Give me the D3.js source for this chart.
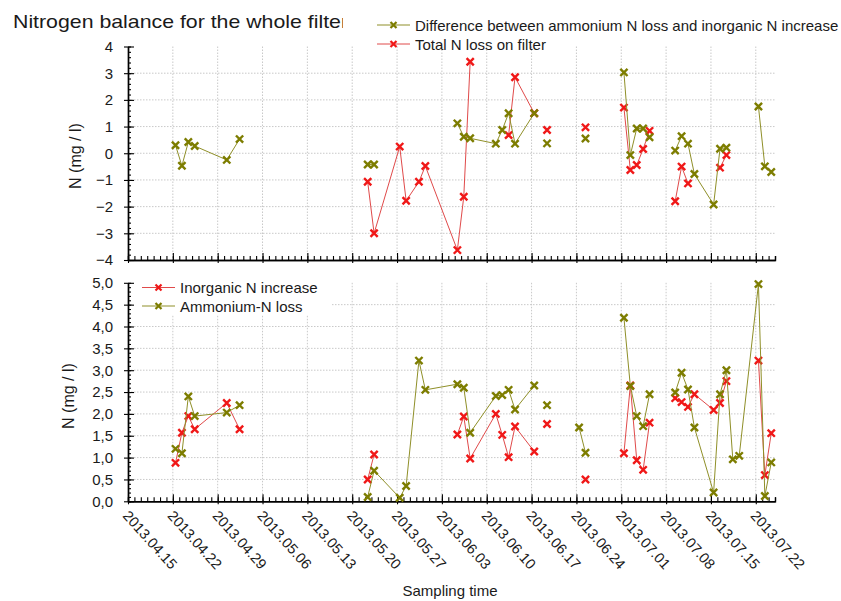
<!DOCTYPE html>
<html><head><meta charset="utf-8">
<script src="https://cdn.jsdelivr.net/npm/d3@7"></script>
<style>
body{margin:0;background:#fff}
svg{display:block}
text{font-family:"Liberation Sans",Arial,sans-serif;fill:#1a1a1a}
</style>
</head><body>
<svg id="c" width="841" height="601"></svg>
<script>
// Sampling rows (blank rows = no measurement, they break the lines)
const sampleTimes = [
 "2013-04-22 10:00","2013-04-23 10:00","2013-04-24 10:00","2013-04-25 10:00","2013-04-30 10:00","2013-05-02 10:00",
 "2013-05-10 10:00",
 "2013-05-22 10:00","2013-05-23 10:00","2013-05-27 10:00","2013-05-28 10:00","2013-05-30 10:00","2013-05-31 10:00",
 "2013-06-05 10:00","2013-06-06 10:00","2013-06-07 10:00","2013-06-11 10:00","2013-06-12 10:00","2013-06-13 10:00",
 "2013-06-14 10:00","2013-06-17 10:00",
 "2013-06-18 10:00",
 "2013-06-19 10:00",
 "2013-06-21 10:00",
 "2013-06-24 10:00","2013-06-25 10:00",
 "2013-06-28 10:00",
 "2013-07-01 10:00","2013-07-02 10:00","2013-07-03 10:00","2013-07-04 10:00","2013-07-05 10:00",
 "2013-07-07 10:00",
 "2013-07-09 10:00","2013-07-10 10:00","2013-07-11 10:00","2013-07-12 10:00","2013-07-15 10:00","2013-07-16 10:00",
 "2013-07-17 10:00","2013-07-18 10:00","2013-07-19 10:00","2013-07-22 10:00","2013-07-23 10:00","2013-07-24 10:00"
];
const ammoniumLoss = [
 1.2,1.1,2.4,1.95,2.03,2.2,
 null,
 0.1,0.7,0.08,0.35,3.22,2.55,
 2.68,2.6,1.57,2.41,2.43,2.55,
 2.1,2.65,
 null,
 2.2,
 null,
 1.69,1.11,
 null,
 4.2,2.64,1.95,1.72,2.45,
 null,
 2.49,2.94,2.56,1.69,0.2,2.45,
 3.0,0.96,1.04,4.97,0.12,0.89
];
const inorganicIncrease = [
 0.88,1.57,1.95,1.65,2.25,1.65,
 null,
 0.5,1.07,null,null,null,null,
 1.53,1.94,0.98,2.0,1.52,1.01,
 1.71,1.14,
 null,
 1.77,
 null,
 null,0.5,
 null,
 1.1,2.65,0.94,0.72,1.8,
 null,
 2.36,2.27,2.16,2.45,2.09,2.25,
 2.75,null,null,3.22,0.6,1.56
];
const differenceN = [
 0.3,-0.47,0.42,0.27,-0.25,0.53,
 null,
 -0.42,-0.42,null,null,null,null,
 1.12,0.62,0.56,0.36,0.87,1.5,
 0.36,1.5,
 null,
 0.37,
 null,
 null,0.55,
 null,
 3.03,-0.07,0.93,0.93,0.6,
 null,
 0.1,0.64,0.36,-0.78,-1.92,0.17,
 0.21,null,null,1.75,-0.49,-0.7
];
const totalLoss = [
 null,null,null,null,null,null,
 null,
 -1.07,-3.0,0.25,-1.78,-1.07,-0.48,
 -3.63,-1.63,3.43,null,null,0.68,
 2.85,1.5,
 null,
 0.87,
 null,
 null,0.97,
 null,
 1.71,-0.63,-0.44,0.16,0.84,
 null,
 -1.8,-0.5,-1.13,null,null,-0.54,
 -0.07,null,null,null,null,null
];
const xTickLabels = ["2013.04.15","2013.04.22","2013.04.29","2013.05.06","2013.05.13","2013.05.20","2013.05.27",
 "2013.06.03","2013.06.10","2013.06.17","2013.06.24","2013.07.01","2013.07.08","2013.07.15","2013.07.22"];
const topYTicks = [-4,-3,-2,-1,0,1,2,3,4];
const bottomYTicks = [0,0.5,1,1.5,2,2.5,3,3.5,4,4.5,5];
const xStart = "2013.04.15", xEnd = "2013.07.25";

const RED = "#f01818", REDLINE = "#e04a4a", GREEN = "#7d7d00", GREENLINE = "#8f8f28";

const svg = d3.select("#c");
const parseT = d3.timeParse("%Y-%m-%d %H:%M");
const parseD = d3.timeParse("%Y.%m.%d");
const times = sampleTimes.map(parseT);
const majors = xTickLabels.map(parseD);
const minors = d3.timeDay.range(parseD(xStart), d3.timeDay.offset(parseD(xEnd), 1));

const x = d3.scaleTime().domain([parseD(xStart), parseD(xEnd)]).range([128, 775]);
const yTop = d3.scaleLinear().domain([-4, 4]).range([260, 46.5]);
const yBot = d3.scaleLinear().domain([0, 5]).range([501.3, 282.8]);

// Title (clipped like original)
svg.append("clipPath").attr("id","tclip").append("rect").attr("x",0).attr("y",0).attr("width",343).attr("height",40);
svg.append("text").attr("x",13).attr("y",28).attr("font-size",19)
  .attr("textLength",335).attr("lengthAdjust","spacingAndGlyphs").attr("clip-path","url(#tclip)")
  .text("Nitrogen balance for the whole filter");

function grid(y, gridVals) {
  const g = svg.append("g").attr("stroke","#c9c9c9").attr("stroke-width",1).attr("stroke-dasharray","1.5,1.5");
  g.selectAll(".v").data(majors.slice(1)).join("line")
    .attr("x1", d => x(d)).attr("x2", d => x(d)).attr("y1", y.range()[1]).attr("y2", y.range()[0]);
  g.selectAll(".h").data(gridVals).join("line")
    .attr("x1", x.range()[0]).attr("x2", x.range()[1]).attr("y1", d => y(d)).attr("y2", d => y(d));
}
grid(yTop, topYTicks.filter(v => v > -4 && v < 4));
grid(yBot, bottomYTicks.filter(v => v > 0 && v < 5));

// bottom legend background
svg.append("rect").attr("x",132).attr("y",277).attr("width",200).attr("height",38).attr("fill","#fff");

function axes(y, yticks, yminorStep, fmt, showLabels) {
  const y0 = y.range()[0];
  const gxMin = svg.append("g").attr("transform",`translate(0,${y0})`)
    .call(d3.axisBottom(x).tickValues(minors).tickSize(-4).tickFormat(""));
  const gxMaj = svg.append("g").attr("transform",`translate(0,${y0})`)
    .call(d3.axisBottom(x).tickValues(majors).tickSizeInner(-7).tickSizeOuter(0).tickFormat(""));
  gxMaj.selectAll(".tick").append("line").attr("y2",3).attr("stroke","#000");
  [gxMin, gxMaj].forEach(g => { g.select(".domain").attr("stroke","#000").attr("stroke-width",1.4); g.selectAll(".tick line").attr("stroke","#000").attr("stroke-width",1.1); });
  const [lo, hi] = y.domain();
  const minorVals = d3.range(Math.round((hi - lo) / yminorStep) + 1).map(i => lo + i * yminorStep);
  const gyMin = svg.append("g").attr("transform",`translate(${x.range()[0]},0)`)
    .call(d3.axisRight(y).tickValues(minorVals).tickSize(3).tickSizeOuter(0).tickFormat(""));
  const gyMaj = svg.append("g").attr("transform",`translate(${x.range()[0]},0)`)
    .call(d3.axisLeft(y).tickValues(yticks).tickSizeInner(4).tickSizeOuter(0).tickPadding(11).tickFormat(fmt));
  gyMaj.selectAll(".tick").append("line").attr("x2",6).attr("stroke","#000");
  [gyMin, gyMaj].forEach(g => { g.select(".domain").attr("stroke","#000").attr("stroke-width",1.4); g.selectAll(".tick line").attr("stroke","#000").attr("stroke-width",1.1); });
  gyMaj.selectAll("text").attr("font-size",15).attr("font-family","Liberation Sans, Arial, sans-serif").attr("fill","#1a1a1a");
  if (showLabels) {
    svg.append("g").selectAll("text").data(majors).join("text")
      .attr("transform", d => `translate(${x(d) - 6},${y0 + 15}) rotate(48)`)
      .attr("font-size",14.5).text((d,i) => xTickLabels[i]);
  }
}
axes(yTop, topYTicks, 0.2, d3.format("d"), false);
const commaFmt = v => d3.format(".1f")(v).replace(".", ",");
axes(yBot, bottomYTicks, 0.1, commaFmt, true);

// axis titles
svg.append("text").attr("transform","translate(81,156) rotate(-90)").attr("text-anchor","middle").attr("font-size",16).text("N (mg / l)");
svg.append("text").attr("transform","translate(74,396) rotate(-90)").attr("text-anchor","middle").attr("font-size",16).text("N (mg / l)");
svg.append("text").attr("x",450).attr("y",596).attr("text-anchor","middle").attr("font-size",15).text("Sampling time");

const xMark = s => `M${-s},${-s}L${s},${s}M${-s},${s}L${s},${-s}`;
function series(vals, y, lineColor, markColor) {
  const data = times.map((t, i) => ({t, v: vals[i]}));
  const line = d3.line().defined(d => d.v != null).x(d => x(d.t)).y(d => y(d.v));
  svg.append("path").datum(data).attr("d", line).attr("fill","none").attr("stroke", lineColor).attr("stroke-width",1);
  svg.append("g").selectAll("path").data(data.filter(d => d.v != null)).join("path")
    .attr("transform", d => `translate(${x(d.t)},${y(d.v)})`)
    .attr("d", xMark(3.6)).attr("stroke", markColor).attr("stroke-width",2.4).attr("fill","none");
}
series(totalLoss, yTop, REDLINE, RED);
series(differenceN, yTop, GREENLINE, GREEN);
series(inorganicIncrease, yBot, REDLINE, RED);
series(ammoniumLoss, yBot, GREENLINE, GREEN);

function legend(items, x0, y0, dy) {
  items.forEach((it, i) => {
    const yy = y0 + i * dy;
    svg.append("line").attr("x1", x0).attr("x2", x0 + 33).attr("y1", yy).attr("y2", yy).attr("stroke", it.line).attr("stroke-width",1);
    svg.append("path").attr("transform",`translate(${x0 + 16.5},${yy})`).attr("d", xMark(3)).attr("stroke", it.mark).attr("stroke-width",2.2);
    svg.append("text").attr("x", x0 + 38).attr("y", yy + 5.5).attr("font-size",15).text(it.label);
  });
}
legend([{label:"Difference between ammonium N loss and inorganic N increase", line:GREENLINE, mark:GREEN},
        {label:"Total N loss on filter", line:REDLINE, mark:RED}], 377, 25, 19);
legend([{label:"Inorganic N increase", line:REDLINE, mark:RED},
        {label:"Ammonium-N loss", line:GREENLINE, mark:GREEN}], 142, 287.5, 18.5);
</script>
</body></html>
